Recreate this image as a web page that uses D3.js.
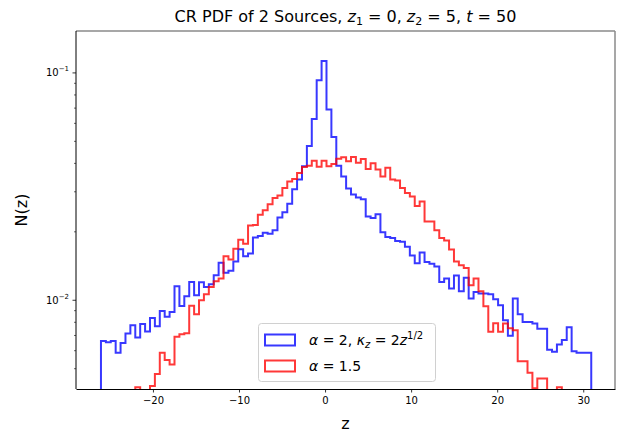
<!DOCTYPE html>
<html>
<head>
<meta charset="utf-8">
<script src="https://cdn.jsdelivr.net/npm/d3@7"></script>
<style>
  body { margin: 0; background: #fff; }
  svg text { font-family: "DejaVu Sans", sans-serif; fill: #000; }
</style>
</head>
<body>
<svg id="chart" width="628" height="433"></svg>
<script>
// Shared histogram bin range (100 equal bins) for both source runs
const binRange = [-26.04, 30.93];
const binCount = 100;

// N(z) per bin, alpha = 2 with kappa_z = 2 z^(1/2)
const blueValues = [
  0.00658, 0.00651, 0.00658, 0.00584, 0.00645, 0.00711, 0.00773, 0.00683, 0.00783, 0.00725,
  0.00832, 0.00765, 0.00893, 0.00841, 0.00884, 0.01146, 0.00938, 0.01036, 0.01197, 0.01046,
  0.01193, 0.01138, 0.01169, 0.01281, 0.01456, 0.01313, 0.01343, 0.01475, 0.01669, 0.01555,
  0.01599, 0.01880, 0.01909, 0.01971, 0.01951, 0.02024, 0.02301, 0.02427, 0.02642, 0.03059,
  0.03377, 0.03870, 0.04746, 0.06233, 0.09243, 0.1123, 0.06868, 0.05197, 0.03890, 0.03481,
  0.03083, 0.02902, 0.02816, 0.02768, 0.02324, 0.02289, 0.02379, 0.01983, 0.01886, 0.01867,
  0.01815, 0.01800, 0.01711, 0.01567, 0.01446, 0.01615, 0.01465, 0.01441, 0.01402, 0.01197,
  0.01239, 0.01120, 0.01277, 0.01090, 0.01249, 0.01012, 0.01082, 0.01065, 0.01065, 0.01057,
  0.01005, 0.00946, 0.00813, 0.00695, 0.01012, 0.00864, 0.00799, 0.00799, 0.00786, 0.00745,
  0.00745, 0.00603, 0.00590, 0.00635, 0.00666, 0.00756, 0.00593, 0.00584, 0.00584, 0.00584
];

// N(z) per bin, alpha = 1.5 (0 = empty bin)
const redValues = [
  0, 0, 0, 0, 0, 0, 0, 0.00412, 0, 0,
  0.00418, 0.00471, 0.00585, 0.00543, 0.00519, 0.00687, 0.00706, 0.00713, 0.00941, 0.00864,
  0.00995, 0.01057, 0.01138, 0.01205, 0.01239, 0.01552, 0.01505, 0.01677, 0.01837, 0.01764,
  0.02123, 0.02133, 0.02367, 0.02477, 0.02632, 0.02802, 0.02873, 0.03099, 0.03309, 0.03394,
  0.03606, 0.03839, 0.03890, 0.04091, 0.03851, 0.04091, 0.03870, 0.03958, 0.04175, 0.04230,
  0.04070, 0.04247, 0.04002, 0.04163, 0.03762, 0.03981, 0.03743, 0.03481, 0.03812, 0.03377,
  0.03343, 0.03099, 0.02946, 0.02844, 0.02584, 0.02704, 0.02210, 0.02210, 0.02024, 0.01870,
  0.01824, 0.01665, 0.01475, 0.01417, 0.01381, 0.01158, 0.01239, 0.01090, 0.00937, 0.00723,
  0.00789, 0.00723, 0.00786, 0.00750, 0.00735, 0.00537, 0.00537, 0.00478, 0.00408, 0.00451,
  0.00451, 0, 0, 0.00412, 0, 0, 0, 0, 0, 0
];

const xTicks = [-20, -10, 0, 10, 20, 30];
const yMajorTicks = [0.01, 0.1];
const yMajorExponents = ["\u22122", "\u22121"];
const yMinorTicks = [0.005, 0.006, 0.007, 0.008, 0.009, 0.02, 0.03, 0.04, 0.05, 0.06, 0.07, 0.08, 0.09];
const xDomain = [-28.94, 33.69];
const yDomain = [0.00405, 0.1521];

const svg = d3.select("#chart");
const plot = { left: 76, right: 615, top: 31, bottom: 389 };

const x = d3.scaleLinear().domain(xDomain).range([plot.left, plot.right]);
const y = d3.scaleLog().domain(yDomain).range([plot.bottom, plot.top]);

svg.append("defs").append("clipPath").attr("id", "plot-clip")
  .append("rect")
  .attr("x", plot.left).attr("y", plot.top)
  .attr("width", plot.right - plot.left).attr("height", plot.bottom - plot.top);

// Bin edges
const binWidth = (binRange[1] - binRange[0]) / binCount;
const edges = d3.range(binCount + 1).map(i => binRange[0] + i * binWidth);

function yPos(v) { return v > 0 ? y(v) : plot.bottom + 40; }

// Outline of a step histogram: rises from the floor, walks across every bin, drops back down
function stepPoints(values) {
  const pts = [[x(edges[0]), plot.bottom + 40]];
  values.forEach((v, i) => {
    pts.push([x(edges[i]), yPos(v)]);
    pts.push([x(edges[i + 1]), yPos(v)]);
  });
  pts.push([x(edges[binCount]), plot.bottom + 40]);
  return pts;
}

const line = d3.line();
const series = [
  { values: blueValues, color: "#0000ff" },
  { values: redValues, color: "#ff0000" }
];

const marks = svg.append("g").attr("clip-path", "url(#plot-clip)");
series.forEach(s => {
  marks.append("path")
    .attr("d", line(stepPoints(s.values)))
    .attr("fill", "none")
    .attr("stroke", s.color)
    .attr("stroke-opacity", 0.78)
    .attr("stroke-width", 2)
    .attr("stroke-linejoin", "miter");
});

// Frame
svg.append("line").attr("x1", plot.left).attr("x2", plot.right).attr("y1", plot.top).attr("y2", plot.top)
  .attr("stroke", "#8a8a8a").attr("stroke-width", 1.5);
svg.append("line").attr("x1", plot.right).attr("x2", plot.right).attr("y1", plot.top).attr("y2", plot.bottom)
  .attr("stroke", "#8a8a8a").attr("stroke-width", 1.5);

// X axis
const xAxis = svg.append("g").attr("transform", `translate(0,${plot.bottom})`)
  .call(d3.axisBottom(x).tickValues(xTicks).tickSize(3.5).tickSizeOuter(0).tickPadding(4)
    .tickFormat(d => d < 0 ? "\u2212" + Math.abs(d) : String(d)));
xAxis.select(".domain").attr("stroke", "#000").attr("stroke-width", 1);
xAxis.selectAll(".tick line").attr("stroke", "#000").attr("stroke-width", 0.8);
xAxis.selectAll(".tick text").attr("font-size", 10).attr("font-family", "DejaVu Sans").attr("fill", "#222");

// Y axis (log): minor ticks, then major ticks with power-of-ten labels
const yAxis = svg.append("g").attr("transform", `translate(${plot.left},0)`);
yAxis.call(d3.axisLeft(y).tickValues(yMinorTicks).tickSize(2).tickSizeOuter(0).tickFormat(""));
yAxis.select(".domain").remove();
yAxis.selectAll(".tick line").attr("stroke", "#000").attr("stroke-width", 0.6);

const yMajor = svg.append("g").attr("transform", `translate(${plot.left},0)`)
  .call(d3.axisLeft(y).tickValues(yMajorTicks).tickSize(3.5).tickSizeOuter(0).tickFormat(""));
yMajor.select(".domain").remove();
yMajor.selectAll(".tick line").attr("stroke", "#000").attr("stroke-width", 0.8);

yMajorTicks.forEach((v, i) => {
  const t = svg.append("text")
    .attr("x", plot.left - 7)
    .attr("y", y(v) + 4)
    .attr("text-anchor", "end")
    .attr("font-size", 10)
    .attr("fill", "#222");
  t.append("tspan").text("10");
  t.append("tspan").attr("dy", -5).attr("font-size", 7).text(yMajorExponents[i]);
});

svg.append("line").attr("x1", plot.left).attr("x2", plot.left).attr("y1", plot.top).attr("y2", plot.bottom)
  .attr("stroke", "#000").attr("stroke-width", 1);

// Axis labels
svg.append("text").attr("x", (plot.left + plot.right) / 2).attr("y", 429)
  .attr("text-anchor", "middle").attr("font-size", 16).text("z");
svg.append("text")
  .attr("transform", `translate(27,${(plot.top + plot.bottom) / 2}) rotate(-90)`)
  .attr("text-anchor", "middle").attr("font-size", 16).text("N(z)");

// Title with math parts
const title = svg.append("text")
  .attr("x", (plot.left + plot.right) / 2).attr("y", 22)
  .attr("text-anchor", "middle").attr("font-size", 16);
title.append("tspan").text("CR PDF of 2 Sources, ");
title.append("tspan").attr("font-style", "italic").text("z");
title.append("tspan").attr("font-size", 11).attr("dy", 3).text("1");
title.append("tspan").attr("dy", -3).text(" = 0, ");
title.append("tspan").attr("font-style", "italic").text("z");
title.append("tspan").attr("font-size", 11).attr("dy", 3).text("2");
title.append("tspan").attr("dy", -3).text(" = 5, ");
title.append("tspan").attr("font-style", "italic").text("t");
title.append("tspan").text(" = 50");

// Legend
const legend = svg.append("g");
legend.append("rect")
  .attr("x", 258.5).attr("y", 323.5).attr("width", 177).attr("height", 58).attr("rx", 3)
  .attr("fill", "#fff").attr("fill-opacity", 0.8)
  .attr("stroke", "#d0d0d0").attr("stroke-width", 1);

const legendRows = [
  { color: "#0000ff", yTop: 334.5 },
  { color: "#ff0000", yTop: 360.5 }
];
legendRows.forEach(r => {
  legend.append("rect")
    .attr("x", 265).attr("y", r.yTop).attr("width", 30).attr("height", 11)
    .attr("fill", "none").attr("stroke", r.color).attr("stroke-opacity", 0.78).attr("stroke-width", 2);
});

const l1 = legend.append("text").attr("x", 309).attr("y", 345).attr("font-size", 14);
l1.append("tspan").attr("font-style", "italic").text("\u03b1");
l1.append("tspan").text(" = 2, ");
l1.append("tspan").attr("font-style", "italic").text("\u03ba");
l1.append("tspan").attr("font-style", "italic").attr("font-size", 10).attr("dy", 3).text("z");
l1.append("tspan").attr("dy", -3).text(" = 2");
l1.append("tspan").attr("font-style", "italic").text("z");
l1.append("tspan").attr("font-size", 10).attr("dy", -6).text("1/2");

const l2 = legend.append("text").attr("x", 309).attr("y", 371).attr("font-size", 14);
l2.append("tspan").attr("font-style", "italic").text("\u03b1");
l2.append("tspan").text(" = 1.5");
</script>
</body>
</html>
